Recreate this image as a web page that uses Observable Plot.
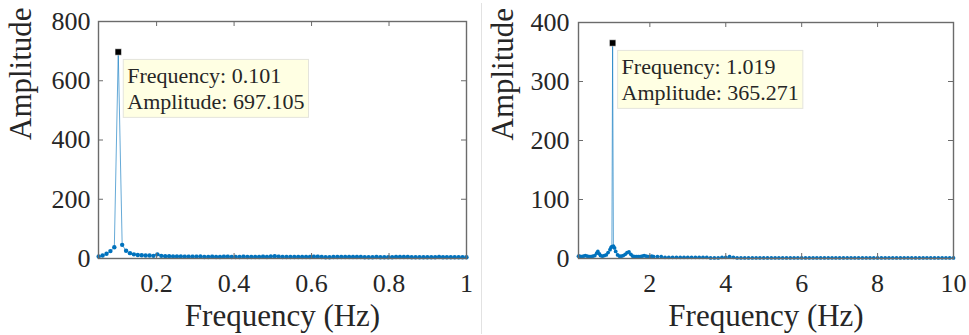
<!DOCTYPE html>
<html><head><meta charset="utf-8">
<script src="https://cdn.jsdelivr.net/npm/d3@7"></script>
<script src="https://cdn.jsdelivr.net/npm/@observablehq/plot@0.6"></script>
<style>
body{margin:0;background:#fff;}
#wrap{display:flex;width:969px;height:335px;overflow:hidden;}
#sep{width:1px;background:#e2e2e2;margin-top:3px;height:331px;flex:none;}
#left,#right{flex:none;}
</style></head><body>
<div id="wrap"><div id="left"></div><div id="sep"></div><div id="right"></div></div>
<script>
// ---- Left panel data (FFT bins 5..99, bin width 0.0101 Hz) ----
const leftStartBin = 5;
const leftBinWidth = 0.0101;
const leftAmp = [
  7, 10, 16, 25, 38, 697.105, 46, 26, 18, 14,
  12, 11, 10, 10, 9, 14, 9, 8, 8, 7,
  7, 7, 6, 6, 6, 6, 7, 5, 5, 6,
  5, 5, 6, 6, 5, 5, 5, 6, 5, 5,
  5, 5, 6, 5, 7, 8, 6, 5, 5, 5,
  5, 5, 5, 5, 5, 6, 6, 5, 4, 4,
  5, 5, 5, 5, 5, 5, 5, 5, 4, 4,
  4, 5, 4, 4, 4, 4, 5, 5, 5, 5,
  4, 4, 4, 4, 4, 4, 4, 5, 4, 4,
  4, 4, 4, 4, 4
];
const leftFreq = leftAmp.map((_, i) => +((leftStartBin + i) * leftBinWidth).toFixed(4));
const leftXDomain = [0.05, 1];
const leftYDomain = [0, 800];
const leftXTicks = [0.2, 0.4, 0.6, 0.8, 1];
const leftYTicks = [0, 200, 400, 600, 800];
const leftPeakFreq = "0.101";
const leftPeakAmp = "697.105";

// ---- Right panel data ----
const rightFreqLow = [
  0.12, 0.15, 0.2, 0.25, 0.3, 0.35, 0.4, 0.45, 0.5, 0.55,
  0.6, 0.63, 0.67, 0.7, 0.75, 0.8, 0.85, 0.9, 0.95, 0.98,
  1.0, 1.019, 1.04, 1.07, 1.1, 1.15, 1.2, 1.25, 1.3, 1.35,
  1.4, 1.45, 1.5, 1.55, 1.6, 1.65, 1.7, 1.75, 1.8, 1.85,
  1.9, 1.95, 2.0, 2.05, 2.1, 2.2
];
const rightAmpLow = [
  4, 4, 3, 4, 5, 4, 3, 3, 4, 5,
  9, 12, 8, 5, 4, 5, 6, 10, 15, 19,
  20, 365.271, 21, 18, 12, 6, 4, 4, 5, 7,
  10, 11, 7, 4, 3, 3, 3, 3, 4, 5,
  4, 3, 3, 4, 3, 3
];
// tail: 2.3 .. 10.0 Hz every 0.1 Hz
const rightTailStart = 2.3;
const rightTailStep = 0.1;
const rightAmpTail = [
  3, 2, 2, 2, 2, 2, 2, 2, 2, 2,
  2, 2, 2, 1, 1, 1, 2, 2, 3, 2,
  1, 1, 1, 1, 1, 1, 1, 1, 1, 1,
  1, 1, 1, 1, 1, 1, 1, 1, 1, 1,
  1, 1, 1, 1, 1, 1, 1, 1, 1, 1,
  1, 1, 1, 1, 1, 1, 1, 1, 1, 1,
  1, 1, 1, 1, 1, 1, 1, 1, 1, 1,
  1, 1, 1, 1, 1, 1, 1, 1
];
const rightFreqTail = rightAmpTail.map((_, i) => +(rightTailStart + i * rightTailStep).toFixed(2));
const rightXDomain = [0.12, 10];
const rightYDomain = [0, 400];
const rightXTicks = [2, 4, 6, 8, 10];
const rightYTicks = [0, 100, 200, 300, 400];
const rightPeakFreq = "1.019";
const rightPeakAmp = "365.271";

const BLUE = "#0072BD";
const AXIS = "#6b6b6b";
const TEXT = "#262626";
const FONT = "'Liberation Serif', 'Times New Roman', serif";

function makeChart(o) {
  const data = o.freq.map((f, i) => ({f, a: o.amp[i]}));
  const peak = [{f: +o.peakFreq, a: +o.peakAmp, label: `Frequency: ${o.peakFreq}\nAmplitude: ${o.peakAmp}`}];
  const innerH = o.height - o.marginTop - o.marginBottom;
  const innerW = o.width - o.marginLeft - o.marginRight;
  const tl = 5;
  return Plot.plot({
    width: o.width, height: o.height,
    marginLeft: o.marginLeft, marginRight: o.marginRight,
    marginTop: o.marginTop, marginBottom: o.marginBottom,
    style: {fontFamily: FONT, fontSize: "26px", background: "white", color: TEXT},
    x: {domain: o.xDomain},
    y: {domain: o.yDomain},
    marks: [
      Plot.line(data, {x: "f", y: "a", stroke: BLUE, strokeWidth: 1, strokeOpacity: 0.6}),
      Plot.dot(data, {x: "f", y: "a", r: o.dotR, fill: BLUE, stroke: "none"}),
      Plot.frame({stroke: AXIS, strokeWidth: 1.4}),
      Plot.tickX(o.xTicks, {x: d => d, stroke: AXIS, insetTop: innerH - tl}),
      Plot.tickX(o.xTicks, {x: d => d, stroke: AXIS, insetBottom: innerH - tl}),
      Plot.tickY(o.yTicks, {y: d => d, stroke: AXIS, insetRight: innerW - tl}),
      Plot.tickY(o.yTicks, {y: d => d, stroke: AXIS, insetLeft: innerW - tl}),
      Plot.axisX({ticks: o.xTicks, tickSize: 0, tickPadding: 15, tickFormat: d => String(d), label: null, fill: TEXT, fontFamily: FONT}),
      Plot.axisY({ticks: o.yTicks, tickSize: 0, tickPadding: o.yPad, tickFormat: d => String(d), label: null, fill: TEXT, fontFamily: FONT}),
      Plot.text(["Frequency (Hz)"], {frameAnchor: "bottom", dy: 67, fontSize: 31, fill: TEXT, fontFamily: FONT}),
      Plot.text(["Amplitude"], {frameAnchor: "left", dx: o.ylabDx, rotate: -90, fontSize: 31, fill: TEXT, fontFamily: FONT}),
      Plot.dot(peak, {x: "f", y: "a", symbol: "square", r: 3.6, fill: "black", stroke: "white", strokeWidth: 0.5}),
      Plot.text(peak, {x: "f", y: "a", text: "label", textAnchor: "start", lineAnchor: "top", dx: 9, dy: 13, fontSize: 22, lineHeight: 1.18, fill: TEXT, fontFamily: FONT})
    ]
  });
}

function addTipBox(svg) {
  const groups = svg.querySelectorAll('g[aria-label="text"]');
  const g = groups[groups.length - 1];
  const bb = g.getBBox();
  const rect = document.createElementNS("http://www.w3.org/2000/svg", "rect");
  rect.setAttribute("x", bb.x - 4);
  rect.setAttribute("y", bb.y - 4);
  rect.setAttribute("width", bb.width + 8);
  rect.setAttribute("height", bb.height + 7);
  rect.setAttribute("fill", "#FFFFE3");
  rect.setAttribute("stroke", "#e4e4dc");
  rect.setAttribute("stroke-width", "1");
  g.insertBefore(rect, g.firstChild);
}

const left = makeChart({
  freq: leftFreq, amp: leftAmp, xDomain: leftXDomain, yDomain: leftYDomain,
  xTicks: leftXTicks, yTicks: leftYTicks, peakFreq: leftPeakFreq, peakAmp: leftPeakAmp,
  width: 481, height: 335, marginLeft: 98, marginRight: 15, marginTop: 21, marginBottom: 77,
  dotR: 2.2, yPad: 8, ylabDx: -77
});
document.getElementById("left").appendChild(left);
addTipBox(left);

const right = makeChart({
  freq: rightFreqLow.concat(rightFreqTail), amp: rightAmpLow.concat(rightAmpTail),
  xDomain: rightXDomain, yDomain: rightYDomain,
  xTicks: rightXTicks, yTicks: rightYTicks, peakFreq: rightPeakFreq, peakAmp: rightPeakAmp,
  width: 487, height: 335, marginLeft: 96, marginRight: 16, marginTop: 22, marginBottom: 77,
  dotR: 1.9, yPad: 9, ylabDx: -75
});
document.getElementById("right").appendChild(right);
addTipBox(right);
</script>
</body></html>
